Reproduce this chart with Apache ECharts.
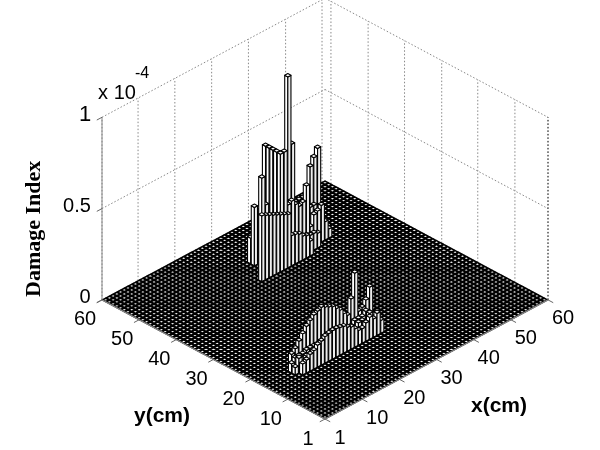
<!DOCTYPE html>
<html>
<head>
<meta charset="utf-8">
<script src="https://cdn.jsdelivr.net/npm/echarts@6/dist/echarts.min.js"></script>
<style>
  html, body { margin: 0; background: #fff; }
  #chart { width: 600px; height: 450px; }
</style>
</head>
<body>
<div id="chart"></div>
<script>
// tick labels of the two floor axes and the height axis
var floorTicks = [0, 10, 20, 30, 40, 50, 60]
var floorTickLabels = ['1', '10', '20', '30', '40', '50', '60']
var wallXTicks = [0, 9.7, 19.6, 29.5, 39.4, 49.4, 59.2]
var wallYTicks = [0, 8.9, 18.9, 28.6, 38.6, 48.4, 58.4]
var heightTicks = [0, 0.5, 1]
var heightTickLabels = ['0', '0.5', '1']

// damage index (x 1e-4), one list per row: [y, first x, heights...]
var upperCrack = [
  [51, 31, 0.05, 0.06, 0.08],
  [50, 30, 0.14, 0.2, 0.25, 0.3, 0.6],
  [49, 30, 0.32, 0.3, 0.3, 0.3, 0.6],
  [48, 31, 0.48, 0.25, 0.25, 0.6, 0.25, 0.25, 0.25, 0.25, 0.25, 0.25, 0.25, 0.25, 0.25, 0.4, 0.44, 0.48, 0.1, 0.03],
  [47, 30, 0.2, 0.22, 0.22, 0.22, 0.6, 0.3, 0.3, 0.98, 0.6, 0.2, 0.2, 0.2, 0.2, 0.2, 0.2, 0.15, 0.08],
  [46, 29, 0.2, 0.2, 0.2, 0.2, 0.2, 0.6, 0.6, 0.3, 0.31, 0.28, 0.26, 0.27, 0.35, 0.115, 0.17, 0.18, 0.2, 0.1, 0.05],
  [45, 28, 0.2, 0.2, 0.2, 0.2, 0.2, 0.2, 0.2, 0.12, 0.12, 0.12, 0.12, 0.1, 0.1, 0.09, 0.09, 0.08],
  [44, 27, 0.36, 0.35, 0.34, 0.33, 0.32, 0.31, 0.3, 0.29, 0.165, 0.16, 0.15, 0.13, 0.12, 0.08]
]
var lowerCrack = [
  [18, 9, 0.08, 0.1, 0.13, 0.16, 0.19, 0.21, 0.23, 0.24, 0.25, 0.24, 0.23, 0.22, 0.2, 0.18, 0.15, 0.13, 0.21, 0.34, 0.12, 0.13, 0.16, 0.22, 0.055, 0.05],
  [17, 8, 0.05, 0.07, 0.07, 0.07, 0.08, 0.08, 0.08, 0.08, 0.08, 0.08, 0.08, 0.08, 0.08, 0.08, 0.08, 0.08, 0.08, 0.1, 0.1, 0.1, 0.12, 0.1, 0.06],
  [16, 8, 0.04, 0.08, 0.06, 0.07, 0.07, 0.07, 0.07, 0.07, 0.07, 0.07, 0.07, 0.07, 0.07, 0.07, 0.07, 0.07, 0.07, 0.1, 0.1, 0.08, 0.12, 0.1],
  [15, 9, 0.06, 0.07, 0.09, 0.1, 0.12, 0.13, 0.145, 0.15, 0.155, 0.155, 0.15, 0.145, 0.13, 0.12, 0.1, 0.08, 0.08, 0.1, 0.12, 0.1, 0.12, 0.07]
]

var GRID_SIZE = 60
var BAR_HALF = 0.42
var HEIGHT_SCALE = 92 // floor units per 1e-4, puts z=1 182px above the floor

var heights = {}
upperCrack.concat(lowerCrack).forEach(function (row) {
  row.slice(2).forEach(function (h, i) {
    heights[(row[1] + i) + '_' + row[0]] = h
  })
})

var cells = []
for (var ix = GRID_SIZE; ix >= 1; ix--) {
  for (var iy = GRID_SIZE; iy >= 1; iy--) {
    cells.push([ix - 0.5, iy - 0.5, heights[ix + '_' + iy] || 0])
  }
}
// painter's order, back of the floor first
cells.sort(function (a, b) { return (b[0] + b[1]) - (a[0] + a[1]) })

function at (api, x, y, z) {
  return api.coord([x - y, x + y + (z || 0) * HEIGHT_SCALE])
}

function renderBar (params, api) {
  var x = api.value(0)
  var y = api.value(1)
  var h = api.value(2)
  var d = BAR_HALF
  var edge = { stroke: '#000', lineWidth: h > 0 ? 1.1 : 1.6, lineJoin: 'round' }
  var topPts = [at(api, x - d, y - d, h), at(api, x + d, y - d, h), at(api, x + d, y + d, h), at(api, x - d, y + d, h)]
  var children = []
  if (h > 0) {
    children.push({
      type: 'polygon',
      shape: { points: [at(api, x - d, y + d, h), at(api, x - d, y - d, h), at(api, x - d, y - d), at(api, x - d, y + d)] },
      style: Object.assign({ fill: '#fff' }, edge)
    })
    children.push({
      type: 'polygon',
      shape: { points: [at(api, x - d, y - d, h), at(api, x + d, y - d, h), at(api, x + d, y - d), at(api, x - d, y - d)] },
      style: Object.assign({ fill: '#ececec' }, edge)
    })
  }
  children.push({ type: 'polygon', shape: { points: topPts }, style: Object.assign({ fill: '#fff' }, edge) })
  return { type: 'group', children: children }
}

function line (p, q, color, dotted, width) {
  return {
    type: 'line',
    shape: { x1: p[0], y1: p[1], x2: q[0], y2: q[1] },
    style: { stroke: color, lineWidth: width || 1, lineDash: dotted ? [1.5, 2] : null }
  }
}

function label (text, x, y, font) {
  return {
    type: 'text',
    style: { text: text, x: x, y: y, font: font, fill: '#000', align: 'center', verticalAlign: 'middle' }
  }
}

function renderFrame (params, api) {
  var kids = []
  var dotColor = '#888'
  wallXTicks.forEach(function (t) {
    kids.push(line(at(api, t, GRID_SIZE), at(api, t, GRID_SIZE, 1), dotColor, true))
  })
  wallYTicks.forEach(function (t) {
    kids.push(line(at(api, GRID_SIZE, t), at(api, GRID_SIZE, t, 1), dotColor, true))
  })
  heightTicks.forEach(function (z) {
    kids.push(line(at(api, 0, GRID_SIZE, z), at(api, GRID_SIZE, GRID_SIZE, z), dotColor, true))
    kids.push(line(at(api, GRID_SIZE, GRID_SIZE, z), at(api, GRID_SIZE, 0, z), dotColor, true))
  })
  kids.push(line(at(api, 0, GRID_SIZE, 0), at(api, 0, GRID_SIZE, 1), '#888'))
  kids.push(line(at(api, GRID_SIZE, 0, 0), at(api, GRID_SIZE, 0, 1), '#333', true))
  return { type: 'group', children: kids }
}

function renderAxes (params, api) {
  var kids = []
  var font = '20px "Liberation Sans"'
  kids.push(line(at(api, 0, 0), at(api, 0, GRID_SIZE), '#888', false, 1.2))
  kids.push(line(at(api, 0, 0), at(api, GRID_SIZE, 0), '#888', false, 1.2))
  floorTicks.forEach(function (t, i) {
    var a = at(api, 0, t)
    var b = at(api, -1.4, t)
    kids.push(line(a, b, '#666'))
    kids.push(label(floorTickLabels[i], a[0] - 17, a[1] + 20, font))
    a = at(api, t, 0)
    b = at(api, t, -1.4)
    kids.push(line(a, b, '#666'))
    kids.push(label(floorTickLabels[i], a[0] + 15, a[1] + 19, font))
  })
  heightTicks.forEach(function (z, i) {
    var a = at(api, 0, GRID_SIZE, z)
    var b = at(api, -1.4, GRID_SIZE, z)
    kids.push(line(a, b, '#666'))
    kids.push(label(heightTickLabels[i], a[0] - 10 - (z === 0.5 ? 15 : 7), a[1] - 2, z === 1 ? '22px "Liberation Sans"' : font))
  })
  var top = at(api, 0, GRID_SIZE, 1)
  kids.push(label('x 10', top[0] + 15, top[1] - 24, '20px "Liberation Sans"'))
  kids.push(label('-4', top[0] + 40, top[1] - 44, '16px "Liberation Sans"'))
  return { type: 'group', children: kids }
}

var chart = echarts.init(document.getElementById('chart'), null, { renderer: 'canvas' })
chart.setOption({
  animation: false,
  backgroundColor: '#fff',
  grid: { left: 102, right: 52, top: 22, bottom: 31 },
  xAxis: { type: 'value', min: -60, max: 60, show: false },
  yAxis: { type: 'value', min: 0, max: 200, show: false },
  graphic: [
    { type: 'text', x: 23, y: 297, rotation: Math.PI / 2, silent: true,
      style: { text: 'Damage Index', font: 'bold 22px "Liberation Serif"', fill: '#000' } },
    { type: 'text', left: 134, top: 406, silent: true,
      style: { text: 'y(cm)', font: 'bold 21px "Liberation Sans"', fill: '#000' } },
    { type: 'text', left: 471, top: 396, silent: true,
      style: { text: 'x(cm)', font: 'bold 21px "Liberation Sans"', fill: '#000' } }
  ],
  series: [
    { type: 'custom', silent: true, clip: false, z: 1, data: [[0]], renderItem: renderFrame },
    { type: 'custom', silent: true, clip: false, z: 2, progressive: 0, data: cells,
      encode: { x: 0, y: 1 }, renderItem: renderBar },
    { type: 'custom', silent: true, clip: false, z: 3, data: [[0]], renderItem: renderAxes }
  ]
})
</script>
</body>
</html>
